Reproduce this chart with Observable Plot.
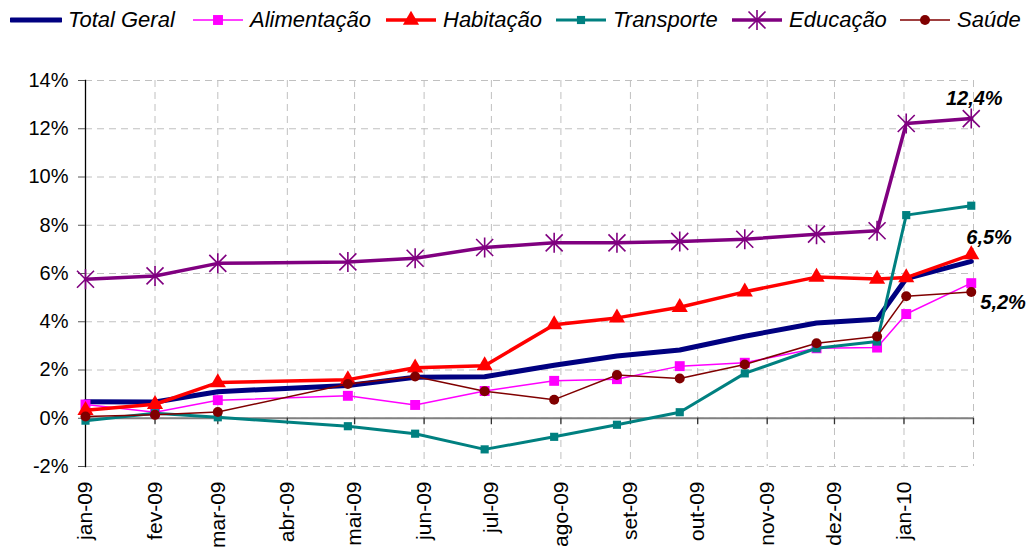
<!DOCTYPE html>
<html><head><meta charset="utf-8">
<script src="https://cdn.jsdelivr.net/npm/d3@7"></script>
<script src="https://cdn.jsdelivr.net/npm/@observablehq/plot@0.6"></script>
<style>
body{margin:0;background:#fff;font-family:"Liberation Sans",Arial,sans-serif;}
#legend{position:relative;height:40px;width:1029px;}
.item{position:absolute;top:0;height:40px;display:flex;align-items:center;font-style:italic;font-size:22px;color:#000;white-space:nowrap;}
.item svg{margin-right:6px;}
</style></head><body>
<div id="legend"></div><div id="chart"></div>
<script>
// ---- data ----
const dates = ["2009-01-01","2009-02-01","2009-03-01","2009-04-28","2009-05-28","2009-06-28","2009-07-29","2009-08-26","2009-09-23","2009-10-22","2009-11-23","2009-12-20","2010-01-02","2010-01-31"];
const totalGeral  = [0.68,0.67,1.10,1.36,1.70,1.72,2.20,2.58,2.83,3.40,3.95,4.10,5.79,6.50];
const alimentacao = [0.57,0.25,0.75,0.93,0.55,1.13,1.55,1.62,2.16,2.30,2.90,2.93,4.32,5.60];
const habitacao   = [0.33,0.58,1.48,1.60,2.09,2.18,3.88,4.16,4.60,5.24,5.85,5.77,5.83,6.78];
const transporte  = [-0.10,0.21,0.04,-0.33,-0.64,-1.29,-0.77,-0.27,0.25,1.86,2.90,3.18,8.42,8.81];
const educacao    = [5.76,5.90,6.42,6.48,6.63,7.08,7.27,7.27,7.33,7.42,7.63,7.77,12.22,12.42];
const saude       = [0.07,0.14,0.26,1.42,1.73,1.12,0.77,1.79,1.65,2.23,3.11,3.39,5.06,5.23];
const seriesNames = ["Total Geral","Alimentação","Habitação","Transporte","Educação","Saúde"];
const monthNames = ["jan","fev","mar","abr","mai","jun","jul","ago","set","out","nov","dez"];
const yTicks = [-2,0,2,4,6,8,10,12,14];
const endLabels = [
  {series:"Educação", text:"12,4%"},
  {series:"Total Geral", text:"6,5%"},
  {series:"Saúde", text:"5,2%"}
];

// ---- styles ----
const starSymbol = {
  draw(ctx, size) {
    const r = Math.sqrt(size / Math.PI), d = r * 0.85;
    ctx.moveTo(-d, -d); ctx.lineTo(d, d);
    ctx.moveTo(d, -d); ctx.lineTo(-d, d);
    ctx.moveTo(0, -r); ctx.lineTo(0, r);
  }
};
const styles = {
  "Total Geral": {color:"#000080", width:5, symbol:null},
  "Alimentação": {color:"#FF00FF", width:1.5, symbol:"square", r:5.6},
  "Habitação":   {color:"#FF0000", width:3.5, symbol:"triangle", r:6},
  "Transporte":  {color:"#008080", width:3, symbol:"square", r:4.6},
  "Educação":    {color:"#800080", width:3.5, symbol:starSymbol, r:10, stroke:true},
  "Saúde":       {color:"#800000", width:1.5, symbol:"circle", r:5}
};
const valuesBy = {"Total Geral":totalGeral,"Alimentação":alimentacao,"Habitação":habitacao,"Transporte":transporte,"Educação":educacao,"Saúde":saude};

const parse = d3.utcParse("%Y-%m-%d");
const rows = seriesNames.map(name => dates.map((d,i) => ({series:name, date:parse(d), value:valuesBy[name][i]})));

const x0 = parse("2009-01-01"), x1 = parse("2010-02-01");
const gridMonths = d3.utcMonth.range(x0, d3.utcDay.offset(x1, 1));
const labelMonths = gridMonths.slice(0, -1);
const fmtMonth = d => monthNames[d.getUTCMonth()]+"-"+String(d.getUTCFullYear()).slice(2);

const marks = [
  Plot.gridY(yTicks, {stroke:"#c0c0c0", strokeOpacity:1, strokeDasharray:"7,5"}),
  Plot.gridX(gridMonths, {stroke:"#c0c0c0", strokeOpacity:1, strokeDasharray:"7,5"}),
  Plot.ruleY([0], {stroke:"#808080", strokeWidth:2}),
  Plot.ruleX(gridMonths.slice(1), {x:d=>d, y1:0, y2:-0.27, stroke:"#333", strokeWidth:1.3}),
  Plot.frame({anchor:"left", stroke:"#000", strokeWidth:1.3}),
  Plot.axisY({ticks:yTicks, tickFormat:d=>d+"%", tickSize:7, tickPadding:10, fill:"#000", stroke:"#555", label:null}),
  Plot.axisX({ticks:labelMonths, tickFormat:fmtMonth, tickRotate:-90, tickSize:0, tickPadding:15, fill:"#000", label:null})
];
seriesNames.forEach((name, k) => {
  const s = styles[name];
  marks.push(Plot.line(rows[k], {x:"date", y:"value", stroke:s.color, strokeWidth:s.width}));
  if (s.symbol) {
    if (s.stroke) marks.push(Plot.dot(rows[k], {x:"date", y:"value", symbol:s.symbol, r:s.r, stroke:s.color, strokeWidth:1.6, fill:"none"}));
    else marks.push(Plot.dot(rows[k], {x:"date", y:"value", symbol:s.symbol, r:s.r, fill:s.color, stroke:"none"}));
  }
});
const lastPts = endLabels.map(l => ({...rows[seriesNames.indexOf(l.series)][dates.length-1], text:l.text}));
const labelOffsets = {"Educação":[3,-20,"middle"], "Total Geral":[-5,-24,"start"], "Saúde":[9,11,"start"]};
lastPts.forEach(p => {
  const [dx,dy,anchor] = labelOffsets[p.series];
  marks.push(Plot.text([p], {x:"date", y:"value", text:"text", dx, dy, textAnchor:anchor, fontSize:20, fontWeight:"bold", fontStyle:"italic", fill:"#000"}));
});

const chart = Plot.plot({
  width:1029, height:511,
  marginLeft:85, marginRight:56, marginTop:40, marginBottom:85,
  style:{fontFamily:"'Liberation Sans', Arial, sans-serif", fontSize:"20px", background:"#fff", overflow:"visible"},
  x:{type:"utc", domain:[x0,x1]},
  y:{domain:[-2,14]},
  marks
});
// enlarge axis tick labels (style overrides attributes)
const xLabelSet = new Set(labelMonths.map(fmtMonth));
const yLabelSet = new Set(yTicks.map(d=>d+"%"));
d3.select(chart).selectAll("text").each(function() {
  const t = this.textContent;
  if (xLabelSet.has(t)) this.style.fontSize = "21px";
  else if (yLabelSet.has(t)) this.style.fontSize = "20px";
});
document.getElementById("chart").appendChild(chart);

// ---- legend ----
const legendLeft = [10,192,385,555,731,899];
const legend = d3.select("#legend");
seriesNames.forEach((name, i) => {
  const s = styles[name];
  const item = legend.append("div").attr("class","item").style("left", legendLeft[i]+"px");
  const svg = item.append("svg").attr("width",52).attr("height",20);
  svg.append("line").attr("x1",1).attr("x2",51).attr("y1",10).attr("y2",10)
    .attr("stroke",s.color).attr("stroke-width",s.width).attr("stroke-linecap", name==="Total Geral"?"round":"butt");
  if (s.symbol) {
    const sym = typeof s.symbol === "string" ? {square:d3.symbolSquare,triangle:d3.symbolTriangle,circle:d3.symbolCircle}[s.symbol] : s.symbol;
    const path = d3.symbol(sym, Math.PI*s.r*s.r)();
    const p = svg.append("path").attr("d", path).attr("transform","translate(26,10)");
    if (s.stroke) p.attr("fill","none").attr("stroke",s.color).attr("stroke-width",1.6);
    else p.attr("fill",s.color);
  }
  item.append("span").text(name);
});
</script></body></html>
